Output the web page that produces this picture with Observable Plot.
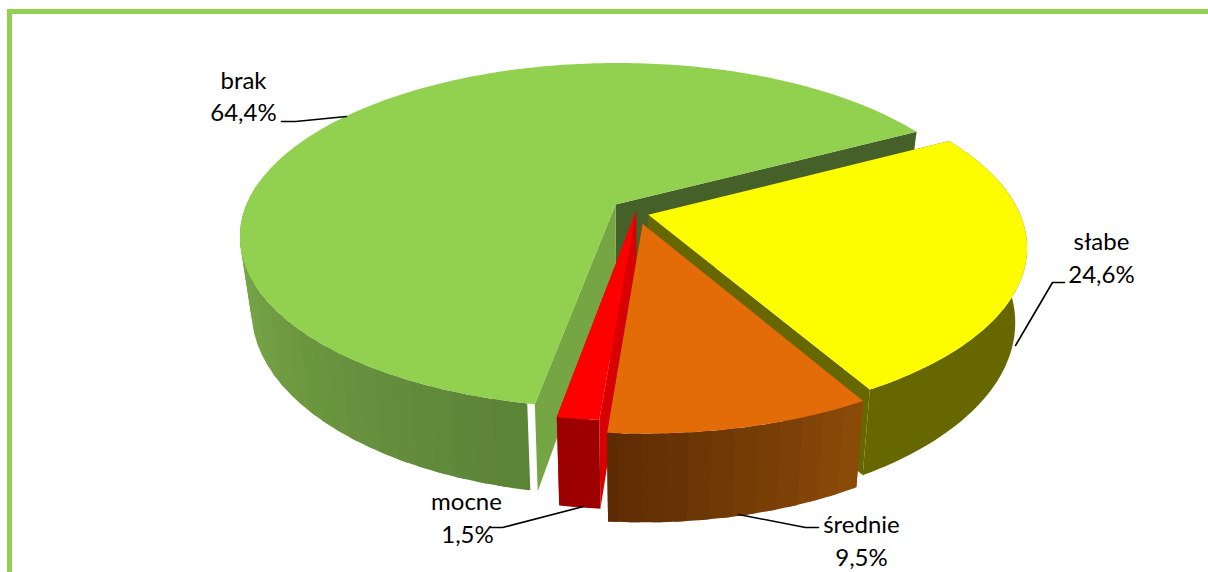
<!DOCTYPE html>
<html><head><meta charset="utf-8">
<style>
html,body{margin:0;padding:0;background:#fff;overflow:hidden}
#c{position:relative;width:1208px;height:572px}
#b{position:absolute;left:7px;top:9px;right:0;bottom:0;border-top:5px solid #92d050;border-left:5px solid #92d050}
svg{position:absolute;left:0;top:0}
</style>
<script src="https://cdn.jsdelivr.net/npm/d3@7"></script>
<script src="https://cdn.jsdelivr.net/npm/@observablehq/plot@0.6"></script>
</head><body><div id="c"><div id="b"></div></div>
<script>
// Data
const categories = ["brak", "słabe", "średnie", "mocne"];
const shares = [64.4, 24.6, 9.5, 1.5];
const percentLabels = ["64,4%", "24,6%", "9,5%", "1,5%"];

// Colours per slice
const topColors = ["#92d050", "#fdfd00", "#e36c09", "#ff0000"];
const wallColors = [["#5c8337", "#84b54f"], ["#676700", "#676700"], ["#8a4a08", "#5a2903"], ["#9c0000", "#9c0000"]];
const faceColors = [["#46602a", "#76a644"], ["#676700", "#676700"], ["#5a2903", "#8a4a08"], ["#d80000", "#d80000"]];

// Projection of the tilted disc
const view = {cx: 630, cy: 209, R: 371, Rt: 168.7, k: 0.18, h: 72, q: 0.97, explode: 0.05, start: 61.8 - 231.84};
const nudges = [[0, 0], [0, 3], [8, 6], [8, -7]];
const rad = d => d * Math.PI / 180;
function project(u, v, low, n) {
  const s = 1 / (1 - view.k * v);
  let X = view.R * u * s, Y = view.Rt * v * s;
  if (low) { X *= view.q; Y += view.h * s; }
  return [view.cx + X + n[0], view.cy + Y + n[1]];
}
const total = d3.sum(shares);
let acc = view.start;
const slices = categories.map((name, i) => {
  const a0 = acc, a1 = acc + shares[i] / total * 360; acc = a1;
  const mid = rad((a0 + a1) / 2);
  return {name, i, a0, a1, ox: view.explode * Math.sin(mid), oy: -view.explode * Math.cos(mid)};
});
const rim = (s, a, low) => project(s.ox + Math.sin(rad(a)), s.oy - Math.cos(rad(a)), low, nudges[s.i]);
const apex = (s, low) => project(s.ox, s.oy, low, nudges[s.i]);

const polys = [];
let pid = 0;
function poly(pts, fill) { const id = pid++; for (const [x, y] of pts) polys.push({id, x, y, fill}); }
function band(s, from, to) {
  const pts = [];
  for (let a = from; a < to; a += 1) pts.push(rim(s, a));
  pts.push(rim(s, to));
  for (let a = to; a > from; a -= 1) pts.push(rim(s, a, true));
  pts.push(rim(s, from, true));
  return pts;
}
function drawSlice(s) {
  const i = s.i;
  // cut faces
  poly([apex(s), rim(s, s.a1), rim(s, s.a1, true), apex(s, true)], faceColors[i][0]);
  poly([apex(s), rim(s, s.a0), rim(s, s.a0, true), apex(s, true)], faceColors[i][1]);
  // outer wall: visible arc, shaded in overlapping strips
  const to = i === 0 ? s.a0 + 88 : s.a1;
  const [c0, c1] = wallColors[i];
  if (c0 === c1) {
    poly(band(s, s.a0, to), c0);
  } else {
    const col = d3.interpolateRgb(c0, c1);
    const step = 3;
    if (i === 0) {
      // left side to the front: paint from the back so the overlap runs one way
      for (let a = to - step; a >= s.a0; a -= step) poly(band(s, a, Math.min(a + step * 1.5, to)), col((a - s.a0) / (to - s.a0)));
    } else {
      for (let a = s.a0; a < to; a += step) poly(band(s, a, Math.min(a + step * 1.5, to)), col((a - s.a0) / (to - s.a0)));
    }
  }
  // top
  const top = [apex(s)];
  for (let a = s.a0; a < s.a1; a += 1) top.push(rim(s, a));
  top.push(rim(s, s.a1));
  poly(top, topColors[i]);
}
[0, 1, 3, 2].forEach(i => drawSlice(slices[i]));

// Label layout (page pixels)
const labelRows = [
  {t: categories[0], x: 243, y: 81}, {t: percentLabels[0], x: 243, y: 113},
  {t: categories[1], x: 1101, y: 242}, {t: percentLabels[1], x: 1101, y: 275},
  {t: categories[2], x: 861, y: 525}, {t: percentLabels[2], x: 861, y: 558},
  {t: categories[3], x: 466, y: 502}, {t: percentLabels[3], x: 467, y: 535}
];
const leaders = [
  [[281, 121], [295, 121], [346, 116]],
  [[1064, 282], [1052, 282], [1015, 345]],
  [[818, 527], [805, 527], [738, 514]],
  [[490, 527], [502, 527], [583, 506]]
].flatMap((pts, id) => pts.map(([x, y]) => ({id, x, y})));

const chart = Plot.plot({
  width: 1208, height: 572, margin: 0,
  style: {background: "transparent"},
  x: {domain: [0, 1208], range: [0, 1208], axis: null},
  y: {domain: [0, 572], range: [0, 572], axis: null},
  color: {type: "identity"},
  marks: [
    Plot.line(polys, {x: "x", y: "y", z: "id", fill: "fill", strokeWidth: 0, curve: "linear-closed"}),
    Plot.line(leaders, {x: "x", y: "y", z: "id", stroke: "black", strokeWidth: 1.6}),
    Plot.text(labelRows, {x: "x", y: "y", text: "t", fontSize: 24, fontFamily: "Lato", fill: "black"})
  ]
});
document.getElementById("c").appendChild(chart);
</script></body></html>
